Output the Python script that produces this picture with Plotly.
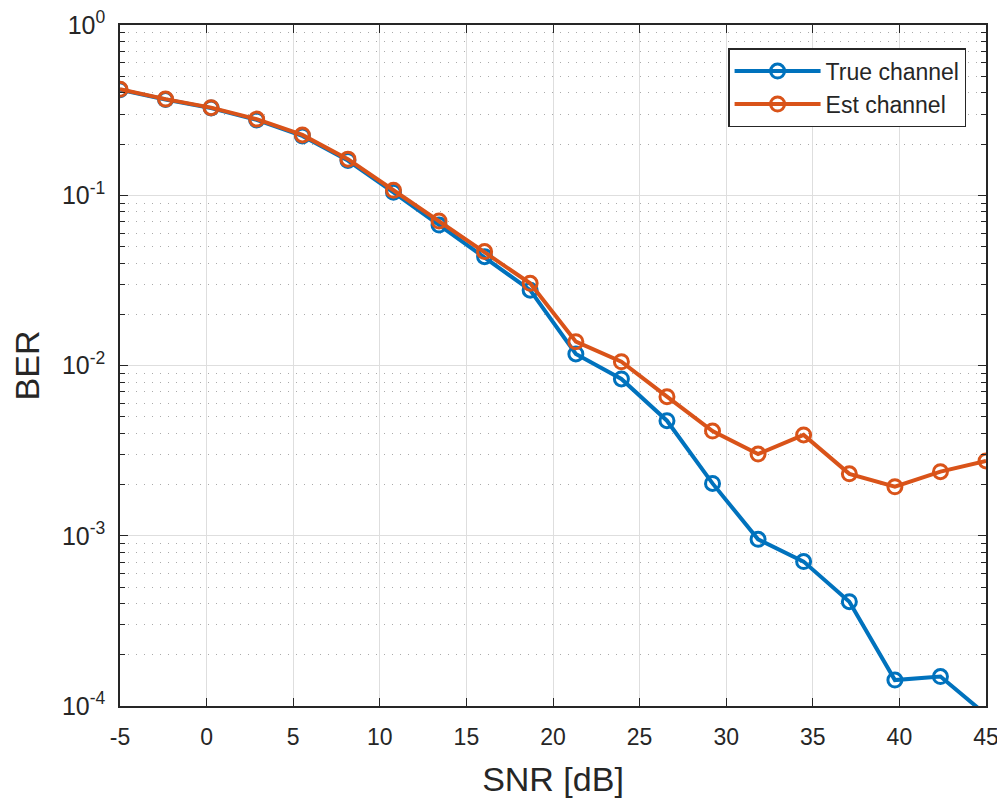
import plotly.graph_objects as go

# ---- data ----
snr_db = [-5, -2.37, 0.26, 2.89, 5.53, 8.16, 10.79, 13.42, 16.05, 18.68,
          21.32, 23.95, 26.58, 29.21, 31.84, 34.47, 37.11, 39.74, 42.37, 45]
ber_true = [0.417, 0.365, 0.325, 0.277, 0.223, 0.160, 0.104, 0.0668, 0.0436, 0.0277,
            0.0117, 0.00834, 0.00474, 0.00203, 0.000953, 0.000705, 0.000410, 0.000142, 0.000149, 0.000089]
ber_est = [0.419, 0.367, 0.327, 0.280, 0.226, 0.163, 0.107, 0.0706, 0.0467, 0.0304,
           0.0138, 0.01052, 0.00656, 0.00412, 0.00302, 0.00391, 0.00231, 0.00194, 0.00238, 0.00275]
series_names = ["True channel", "Est channel"]
x_ticks = [-5, 0, 5, 10, 15, 20, 25, 30, 35, 40, 45]
x_ticklabels = ["-5", "0", "5", "10", "15", "20", "25", "30", "35", "40", "45"]
y_ticks = [1e-4, 1e-3, 1e-2, 1e-1, 1]
y_ticklabels = ["10<sup>-4</sup>", "10<sup>-3</sup>", "10<sup>-2</sup>", "10<sup>-1</sup>", "10<sup>0</sup>"]

BLUE = "#0072BD"
ORANGE = "#D95319"
AX = "#262626"
FONT = "Liberation Sans, Arial, Helvetica, sans-serif"

minor_vals = [m * d for d in y_ticks[:-1] for m in range(2, 10)]

fig = go.Figure()
for name, ys, col in [(series_names[0], ber_true, BLUE), (series_names[1], ber_est, ORANGE)]:
    fig.add_trace(go.Scatter(
        x=snr_db, y=ys, name=name, mode="lines+markers",
        line=dict(color=col, width=4),
        marker=dict(symbol="circle-open", size=14, color=col, line=dict(color=col, width=3)),
    ))

# page body has an 8px margin, so the figure is sized/offset to compensate
fig.update_layout(
    width=997, height=794,
    margin=dict(l=112, r=19, t=17, b=96, autoexpand=False),
    paper_bgcolor="white", plot_bgcolor="white",
    font=dict(family=FONT, color=AX, size=22),
    showlegend=True,
    legend=dict(
        x=0.977, y=0.966, xanchor="right", yanchor="top",
        bgcolor="white", bordercolor=AX, borderwidth=1.5,
        font=dict(size=23, color=AX, family=FONT),
        tracegroupgap=0, itemwidth=86,
    ),
)

fig.update_xaxes(
    range=[-5, 45], tickvals=x_ticks, ticktext=x_ticklabels,
    showline=True, linecolor=AX, linewidth=1.5, mirror="ticks",
    ticks="inside", ticklen=8, tickcolor=AX, tickwidth=1,
    showgrid=True, gridcolor="#dedede", gridwidth=1,
    zeroline=False, automargin=False, ticklabeloverflow="allow",
    tickfont=dict(size=23, color=AX, family=FONT),
    ticklabelstandoff=10,
    title=dict(text="SNR [dB]", font=dict(size=34, color=AX, family=FONT), standoff=18),
)
fig.update_yaxes(
    type="log", range=[-4, 0],
    tickvals=y_ticks, ticktext=y_ticklabels,
    showline=True, linecolor=AX, linewidth=1.5, mirror="ticks",
    ticks="inside", ticklen=8, tickcolor=AX, tickwidth=1,
    showgrid=True, gridcolor="#dedede", gridwidth=1,
    zeroline=False, automargin=False, ticklabeloverflow="allow",
    tickfont=dict(size=25, color=AX, family=FONT),
    ticklabelstandoff=8,
    minor=dict(tickvals=minor_vals, ticks="inside", ticklen=5, tickcolor=AX,
               showgrid=True, gridcolor="#aaaaaa", griddash="1px,7px", gridwidth=1.2),
    title=dict(text="BER", font=dict(size=34, color=AX, family=FONT), standoff=14),
)

fig.write_html("out.html")
